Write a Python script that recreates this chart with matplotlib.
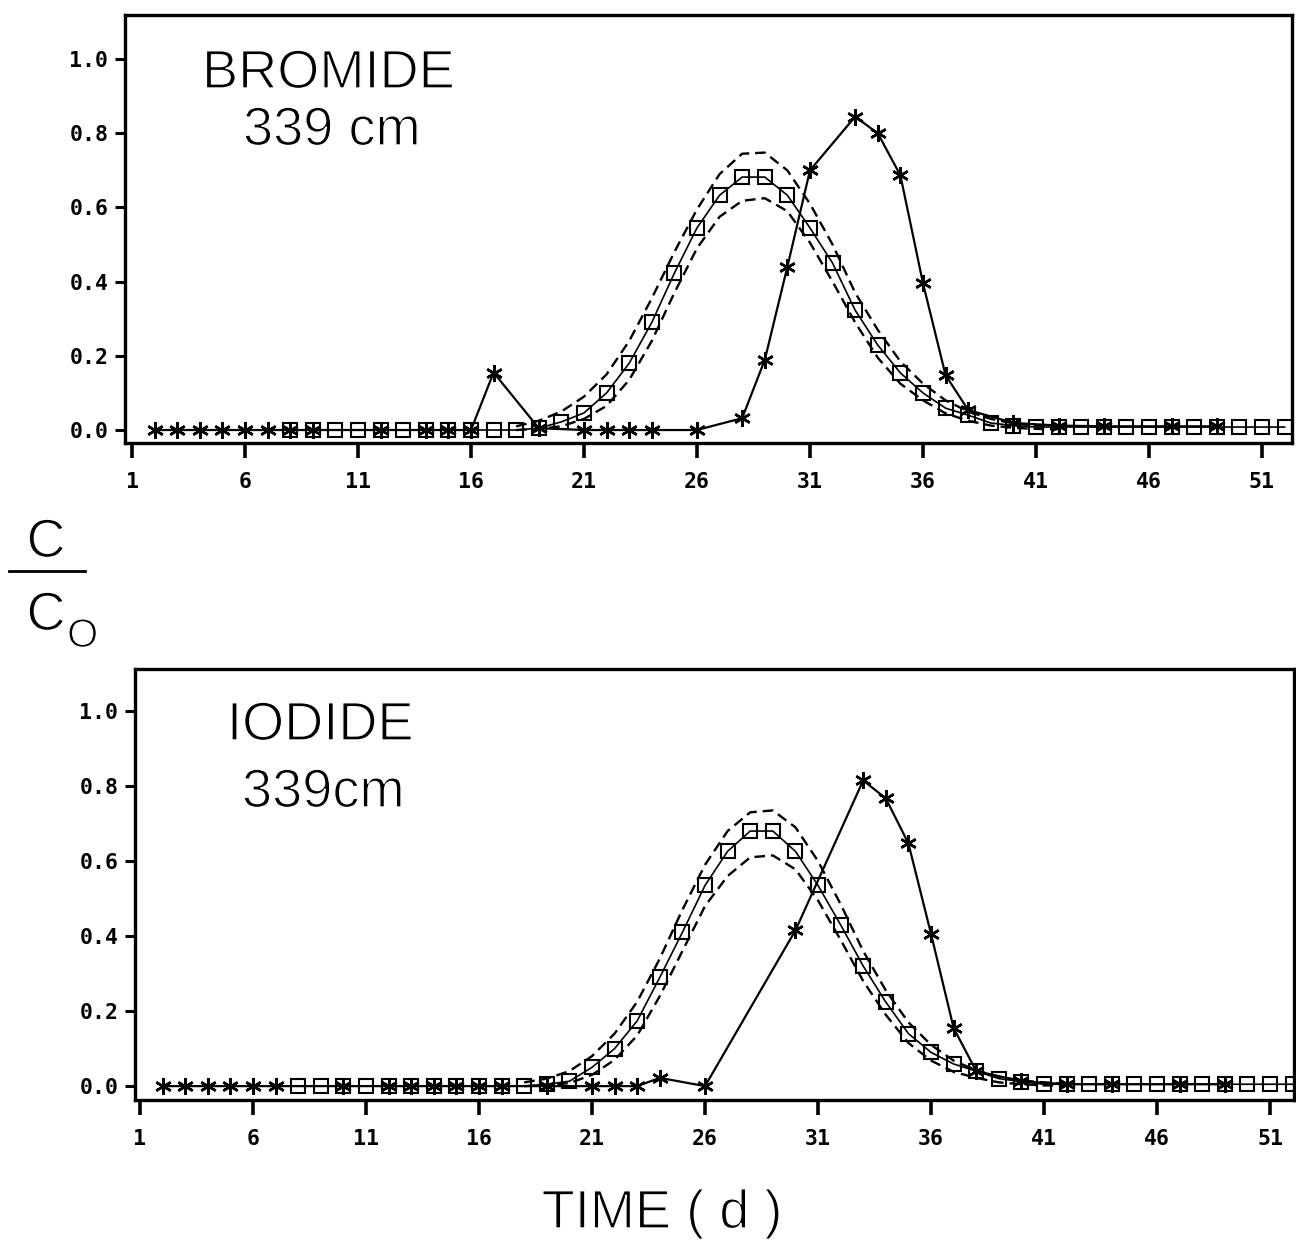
import matplotlib
matplotlib.use("Agg")
import matplotlib.pyplot as plt
import matplotlib.patheffects as pe
from matplotlib.lines import Line2D

# Observed breakthrough (asterisks)
br_obs_day = [2, 3, 4, 5, 6, 7, 8, 9, 12, 14, 15, 16, 17, 19, 21, 22, 23, 24, 26,
              28, 29, 30, 31, 33, 34, 35, 36, 37, 38, 40, 42, 44, 47, 49]
br_obs = [0.0, 0.0, 0.0, 0.0, 0.0, 0.0, 0.0, 0.0, 0.0, 0.0, 0.0, 0.0, 0.155, 0.005,
          0.0, 0.0, 0.0, 0.0, 0.0, 0.032, 0.189, 0.44, 0.70, 0.845, 0.80, 0.687,
          0.396, 0.148, 0.054, 0.019, 0.012, 0.01, 0.01, 0.01]

io_obs_day = [2, 3, 4, 5, 6, 7, 10, 12, 13, 14, 15, 16, 17, 19, 21, 22, 23, 24, 26,
              30, 33, 34, 35, 36, 37, 38, 40, 42, 44, 47, 49]
io_obs = [0.0, 0.0, 0.0, 0.0, 0.0, 0.0, 0.0, 0.0, 0.0, 0.0, 0.0, 0.0, 0.0, 0.0,
          0.0, 0.0, 0.0, 0.022, 0.0, 0.415, 0.815, 0.767, 0.647, 0.406, 0.155,
          0.04, 0.013, 0.005, 0.005, 0.005, 0.005]

# Model prediction (squares), days 8..52
model_day = list(range(8, 53))
br_model = [0.0] * 11 + [0.005, 0.022, 0.046, 0.10, 0.18, 0.29, 0.423, 0.545, 0.633,
                         0.682, 0.682, 0.633, 0.545, 0.45, 0.323, 0.229, 0.154, 0.10,
                         0.059, 0.04, 0.019, 0.012] + [0.008] * 12
io_model = [0.0] * 11 + [0.005, 0.013, 0.05, 0.10, 0.174, 0.29, 0.41, 0.535, 0.626,
                         0.68, 0.68, 0.626, 0.535, 0.43, 0.32, 0.224, 0.14, 0.09,
                         0.059, 0.04, 0.02, 0.012] + [0.005] * 12

# Confidence band (dashed), days 18..42
band_day = list(range(18, 43))
br_upper = [0.01, 0.025, 0.05, 0.09, 0.15, 0.24, 0.355, 0.48, 0.595, 0.69, 0.745,
            0.748, 0.70, 0.61, 0.50, 0.37, 0.27, 0.185, 0.125, 0.08, 0.05,
            0.03, 0.018, 0.012, 0.009]
br_lower = [0.0, 0.003, 0.01, 0.03, 0.065, 0.135, 0.24, 0.37, 0.49, 0.575, 0.618,
            0.625, 0.59, 0.505, 0.40, 0.29, 0.195, 0.125, 0.08, 0.045, 0.025,
            0.012, 0.006, 0.003, 0.002]
io_upper = [0.01, 0.02, 0.04, 0.08, 0.14, 0.225, 0.34, 0.47, 0.59, 0.68, 0.73,
            0.735, 0.69, 0.60, 0.485, 0.36, 0.255, 0.17, 0.11, 0.068, 0.042,
            0.025, 0.015, 0.01, 0.006]
io_lower = [0.0, 0.003, 0.008, 0.03, 0.07, 0.135, 0.24, 0.36, 0.48, 0.56, 0.61,
            0.615, 0.578, 0.495, 0.39, 0.28, 0.19, 0.115, 0.068, 0.038, 0.022,
            0.01, 0.005, 0.002, 0.001]

xticks = [1, 6, 11, 16, 21, 26, 31, 36, 41, 46, 51]
yticks = [0.0, 0.2, 0.4, 0.6, 0.8, 1.0]

W, H = 1296, 1243
fig = plt.figure(figsize=(W / 100, H / 100), dpi=100)

# thin the Helvetica-like strokes a little with a white outline on top
thin = [pe.Normal(), pe.Stroke(linewidth=1.0, foreground="white")]
big = dict(family="Liberation Sans", fontsize=39, color="black", path_effects=thin)
star = (6, 2, 0)


def px_rect(left, top, right, bottom):
    return [left / W, 1 - bottom / H, (right - left) / W, (bottom - top) / H]


def panel(rect, xlim, ylim, obs_day, obs, model, upper, lower):
    ax = fig.add_axes(rect)
    ax.plot(band_day, upper, color="black", lw=1.7, dashes=(4.5, 2.5))
    ax.plot(band_day, lower, color="black", lw=1.7, dashes=(4.5, 2.5))
    ax.plot(model_day, model, color="black", lw=1.2, marker="s", ms=10,
            fillstyle="none", mew=1.5)
    ax.plot(obs_day, obs, color="black", lw=1.6, marker=star, ms=12, mew=1.8)
    ax.set_xlim(*xlim)
    ax.set_ylim(*ylim)
    ax.set_xticks(xticks)
    ax.set_yticks(yticks)
    ax.set_yticklabels([f"{v:.1f}" for v in yticks])
    for s in ax.spines.values():
        s.set_linewidth(2.4)
    ax.tick_params(axis="x", direction="out", length=11, width=2.6, pad=10)
    ax.tick_params(axis="y", direction="out", length=7, width=2.2, pad=5)
    for lab in ax.get_xticklabels() + ax.get_yticklabels():
        lab.set_family("DejaVu Sans Mono")
        lab.set_fontweight("bold")
        lab.set_fontsize(15.5)
    return ax


ax1 = panel(px_rect(125, 15, 1292, 443), (0.69, 52.33), (-0.035, 1.119),
            br_obs_day, br_obs, br_model, br_upper, br_lower)
ax2 = panel(px_rect(135, 669, 1294, 1100), (0.78, 52.06), (-0.037, 1.112),
            io_obs_day, io_obs, io_model, io_upper, io_lower)

# Panel titles
fig.text(202 / W, 1 - 88 / H, "BROMIDE", va="baseline", ha="left", **big)
fig.text(243 / W, 1 - 145 / H, "339 cm", va="baseline", ha="left", **big)
fig.text(227 / W, 1 - 740 / H, "IODIDE", va="baseline", ha="left", **big)
fig.text(242 / W, 1 - 807 / H, "339cm", va="baseline", ha="left", **big)

# C / Co fraction on the left
fig.text(46 / W, 1 - 557 / H, "C", va="baseline", ha="center", **big)
fig.add_artist(Line2D([9 / W, 85 / W], [1 - 571 / H, 1 - 571 / H], color="black",
                      lw=2.0, transform=fig.transFigure))
fig.text(46 / W, 1 - 630 / H, "C", va="baseline", ha="center", **big)
fig.text(67 / W, 1 - 647 / H, "O", va="baseline", ha="left",
         family="Liberation Sans", fontsize=29, color="black", path_effects=thin)

# x-axis title
fig.text(662 / W, 1 - 1228 / H, "TIME ( d )", va="baseline", ha="center", **big)

fig.savefig("out.png", dpi=100)
